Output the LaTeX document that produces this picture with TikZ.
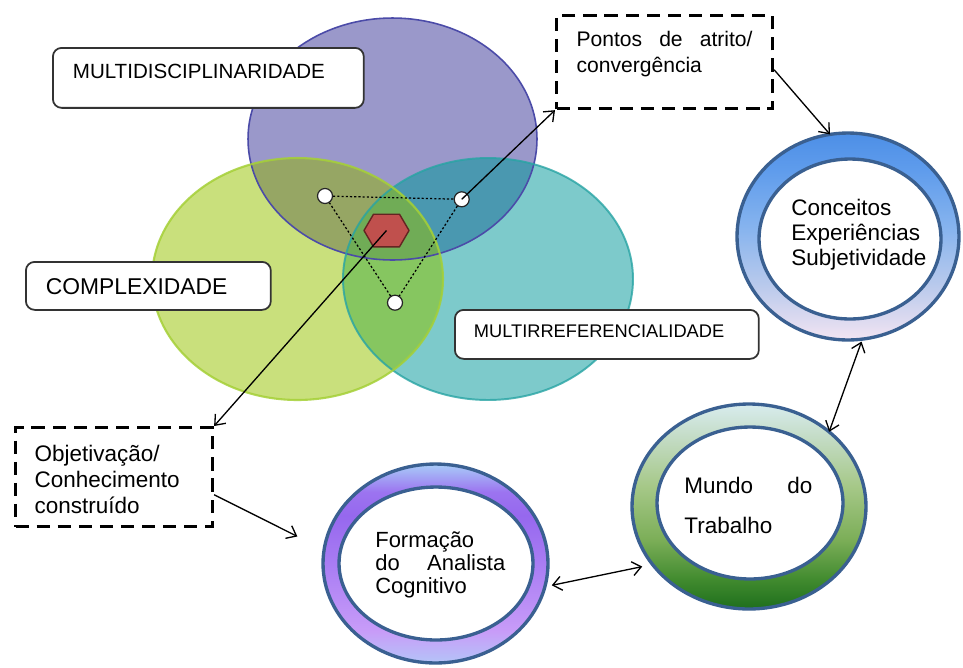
\documentclass[tikz,border=0pt]{standalone}
\usepackage{fontspec}
\setmainfont{Liberation Sans}
\usetikzlibrary{shapes.geometric,arrows.meta}

\def\PX{0.5690551pt}

\definecolor{cP}{RGB}{154,152,202}
\definecolor{cG}{RGB}{201,224,124}
\definecolor{cT}{RGB}{125,202,203}
\definecolor{cPG}{RGB}{150,166,100}
\definecolor{cPT}{RGB}{74,152,176}
\definecolor{cGT}{RGB}{134,198,96}
\definecolor{cPGT}{RGB}{112,172,86}
\definecolor{bP}{RGB}{75,75,168}
\definecolor{bG}{RGB}{165,208,55}
\definecolor{bT}{RGB}{40,164,164}
\definecolor{ringB}{RGB}{58,96,145}
\definecolor{hexF}{RGB}{192,80,77}
\definecolor{hexB}{RGB}{100,36,34}

\definecolor{b1}{RGB}{77,143,230}
\definecolor{b2}{RGB}{95,156,236}
\definecolor{b3}{RGB}{135,180,238}
\definecolor{b4}{RGB}{186,202,236}
\definecolor{b5}{RGB}{242,228,242}
\definecolor{g1}{RGB}{216,236,238}
\definecolor{g2}{RGB}{196,220,198}
\definecolor{g3}{RGB}{166,200,136}
\definecolor{g4}{RGB}{124,174,88}
\definecolor{g5}{RGB}{64,138,46}
\definecolor{g6}{RGB}{30,110,28}
\definecolor{p1}{RGB}{168,204,248}
\definecolor{p2}{RGB}{156,116,240}
\definecolor{p3}{RGB}{150,104,238}
\definecolor{p4}{RGB}{172,128,244}
\definecolor{p5}{RGB}{200,156,248}
\definecolor{p6}{RGB}{180,196,248}

\pgfdeclareverticalshading{shBlue}{100bp}{color(0bp)=(b5); color(25bp)=(b5); color(38bp)=(b4); color(52bp)=(b3); color(66bp)=(b2); color(75bp)=(b1); color(100bp)=(b1)}
\pgfdeclareverticalshading{shGreen}{100bp}{color(0bp)=(g6); color(25bp)=(g6); color(32bp)=(g5); color(42bp)=(g4); color(55bp)=(g3); color(67bp)=(g2); color(75bp)=(g1); color(100bp)=(g1)}
\pgfdeclareverticalshading{shPurple}{100bp}{color(0bp)=(p6); color(25bp)=(p6); color(33bp)=(p5); color(48bp)=(p4); color(62bp)=(p3); color(68bp)=(p2); color(75bp)=(p1); color(100bp)=(p1)}

\tikzset{
  ring/.style={ellipse, draw=ringB, line width=1.9pt, inner sep=0pt, outer sep=0pt},
  inring/.style={ring, fill=white},
  txt/.style={inner sep=0pt, anchor=base west, align=justify},
  lbl/.style={draw=black!80, line width=1pt, fill=white, rounded corners=5pt, inner ysep=0pt, align=left, anchor=north west},
  dbox/.style={draw=black, line width=1.8pt, dash pattern=on 7.5pt off 4.5pt, fill=white, inner ysep=0pt, anchor=north west, align=justify},
  dot/.style={circle, draw=black!85, line width=0.7pt, fill=white, inner sep=0pt, minimum size=15*\PX},
  dotline/.style={line width=0.7pt, dash pattern=on 1.2pt off 1.2pt},
  hexa/.style={fill=hexF, draw=hexB, line width=0.8pt, line join=round},
  arr/.style={line width=0.75pt, -{Straight Barb[length=5pt,width=8pt]}},
  darr/.style={line width=0.75pt, {Straight Barb[length=5pt,width=8pt]}-{Straight Barb[length=5pt,width=8pt]}},
}

\def\EP{(392.5,139) ellipse [x radius=144.5*\PX, y radius=121*\PX]}
\def\EG{(297.5,279) ellipse [x radius=145.5*\PX, y radius=121*\PX]}
\def\ET{(488,279) ellipse [x radius=145*\PX, y radius=121*\PX]}

\begin{document}
\begin{tikzpicture}[x=0.02cm, y=-0.02cm]
\path[use as bounding box, fill=white] (0,0) rectangle (963,667);

% Venn diagram
\fill[cP] \EP;
\fill[cG] \EG;
\fill[cT] \ET;
\begin{scope}
  \clip \EP;
  \fill[cPG] \EG;
  \fill[cPT] \ET;
\end{scope}
\begin{scope}
  \clip \EG;
  \fill[cGT] \ET;
\end{scope}
\begin{scope}
  \clip \EP;
  \clip \EG;
  \fill[cPGT] \ET;
\end{scope}
\draw[bP, line width=0.9pt] \EP;
\draw[bT, line width=1.1pt, opacity=0.8] \ET;
\draw[bG, line width=1.2pt, opacity=0.85] \EG;

% triangle of points and hexagon
\node[dot] (dL) at (325,196) {};
\node[dot] (dR) at (461.7,199.3) {};
\node[dot] (dB) at (395,302.7) {};
\draw[dotline] (dL) -- (dR) -- (dB) -- (dL);
\coordinate (hex) at (386.5,230.5);
\draw[hexa] (hex) ++(-22.5,0) -- ++(9.5,-16.3) -- ++(26,0) -- ++(9.5,16.3) -- ++(-9.5,16.3) -- ++(-26,0) -- cycle;

% label boxes
\node[lbl, inner xsep=20*\PX, text width=271*\PX, minimum height=60*\PX, text height=1.14pt, text depth=0pt,
      font=\fontsize{11.7pt}{14pt}\selectfont] (mdis) at (52,47) {MULTIDISCIPLINARIDADE};
\node[lbl, inner xsep=20*\PX, text width=205*\PX, minimum height=48*\PX, text height=10.24pt, text depth=0pt,
      font=\fontsize{13pt}{15pt}\selectfont] (comp) at (25,261) {COMPLEXIDADE};
\node[lbl, inner xsep=19*\PX, text width=266*\PX, minimum height=49*\PX, text height=3.98pt, text depth=0pt,
      font=\fontsize{10.4pt}{12pt}\selectfont] (mref) at (454,309) {MULTIRREFERENCIALIDADE};

% dashed boxes
\node[dbox, inner xsep=20*\PX, text width=176*\PX, minimum height=93*\PX, text height=0pt, text depth=17.64pt,
      font=\fontsize{12pt}{14.8pt}\selectfont] (pontos) at (555,14) {Pontos\hfill de\hfill atrito/\\convergência};
\node[dbox, inner xsep=19*\PX, text width=159*\PX, minimum height=99*\PX, text height=0pt, text depth=17.64pt,
      font=\fontsize{12.8pt}{14.8pt}\selectfont] (obj) at (14,426) {Objetivação/\\Conhecimento\\construído};

% rings
\node[ring, shading=shBlue, minimum width=222*\PX, minimum height=207*\PX] (conc) at (848,236.5) {};
\node[inring, minimum width=182*\PX, minimum height=160*\PX] (concIn) at (850,239) {};
\node[txt, text width=150*\PX, font=\fontsize{12.8pt}{14.5pt}\selectfont] (concT) at (791,215) {Conceitos\\Experiências\\Subjetividade};

\node[ring, shading=shGreen, minimum width=234*\PX, minimum height=205*\PX] (mundo) at (749,506.5) {};
\node[inring, minimum width=186*\PX, minimum height=152*\PX] (mundoIn) at (750,503) {};
\node[txt, text width=128*\PX, font=\fontsize{12.8pt}{22.8pt}\selectfont] (mundoT) at (684,493) {Mundo\hfill do\\Trabalho};

\node[ring, shading=shPurple, minimum width=225*\PX, minimum height=199*\PX] (form) at (435.5,563.5) {};
\node[inring, minimum width=194*\PX, minimum height=153*\PX] (formIn) at (436,563.5) {};
\node[txt, text width=130*\PX, font=\fontsize{12.5pt}{13.1pt}\selectfont] (formT) at (375,547) {Formação\\do\hfill Analista\\Cognitivo};

% connectors
\draw[arr] (hex) -- (obj.north east);
\draw[arr] (dR.center) -- (pontos.south west);
\draw[arr] (pontos.-4) -- (conc.100);
\draw[darr, shorten <=1.5pt] (conc.-82) -- (mundo.43);
\draw[arr, shorten >=17pt] (obj.-10) -- (form.173.5);
\draw[darr, shorten <=4pt, shorten >=6pt] (form.-12) -- (mundo.-149);
\end{tikzpicture}
\end{document}
